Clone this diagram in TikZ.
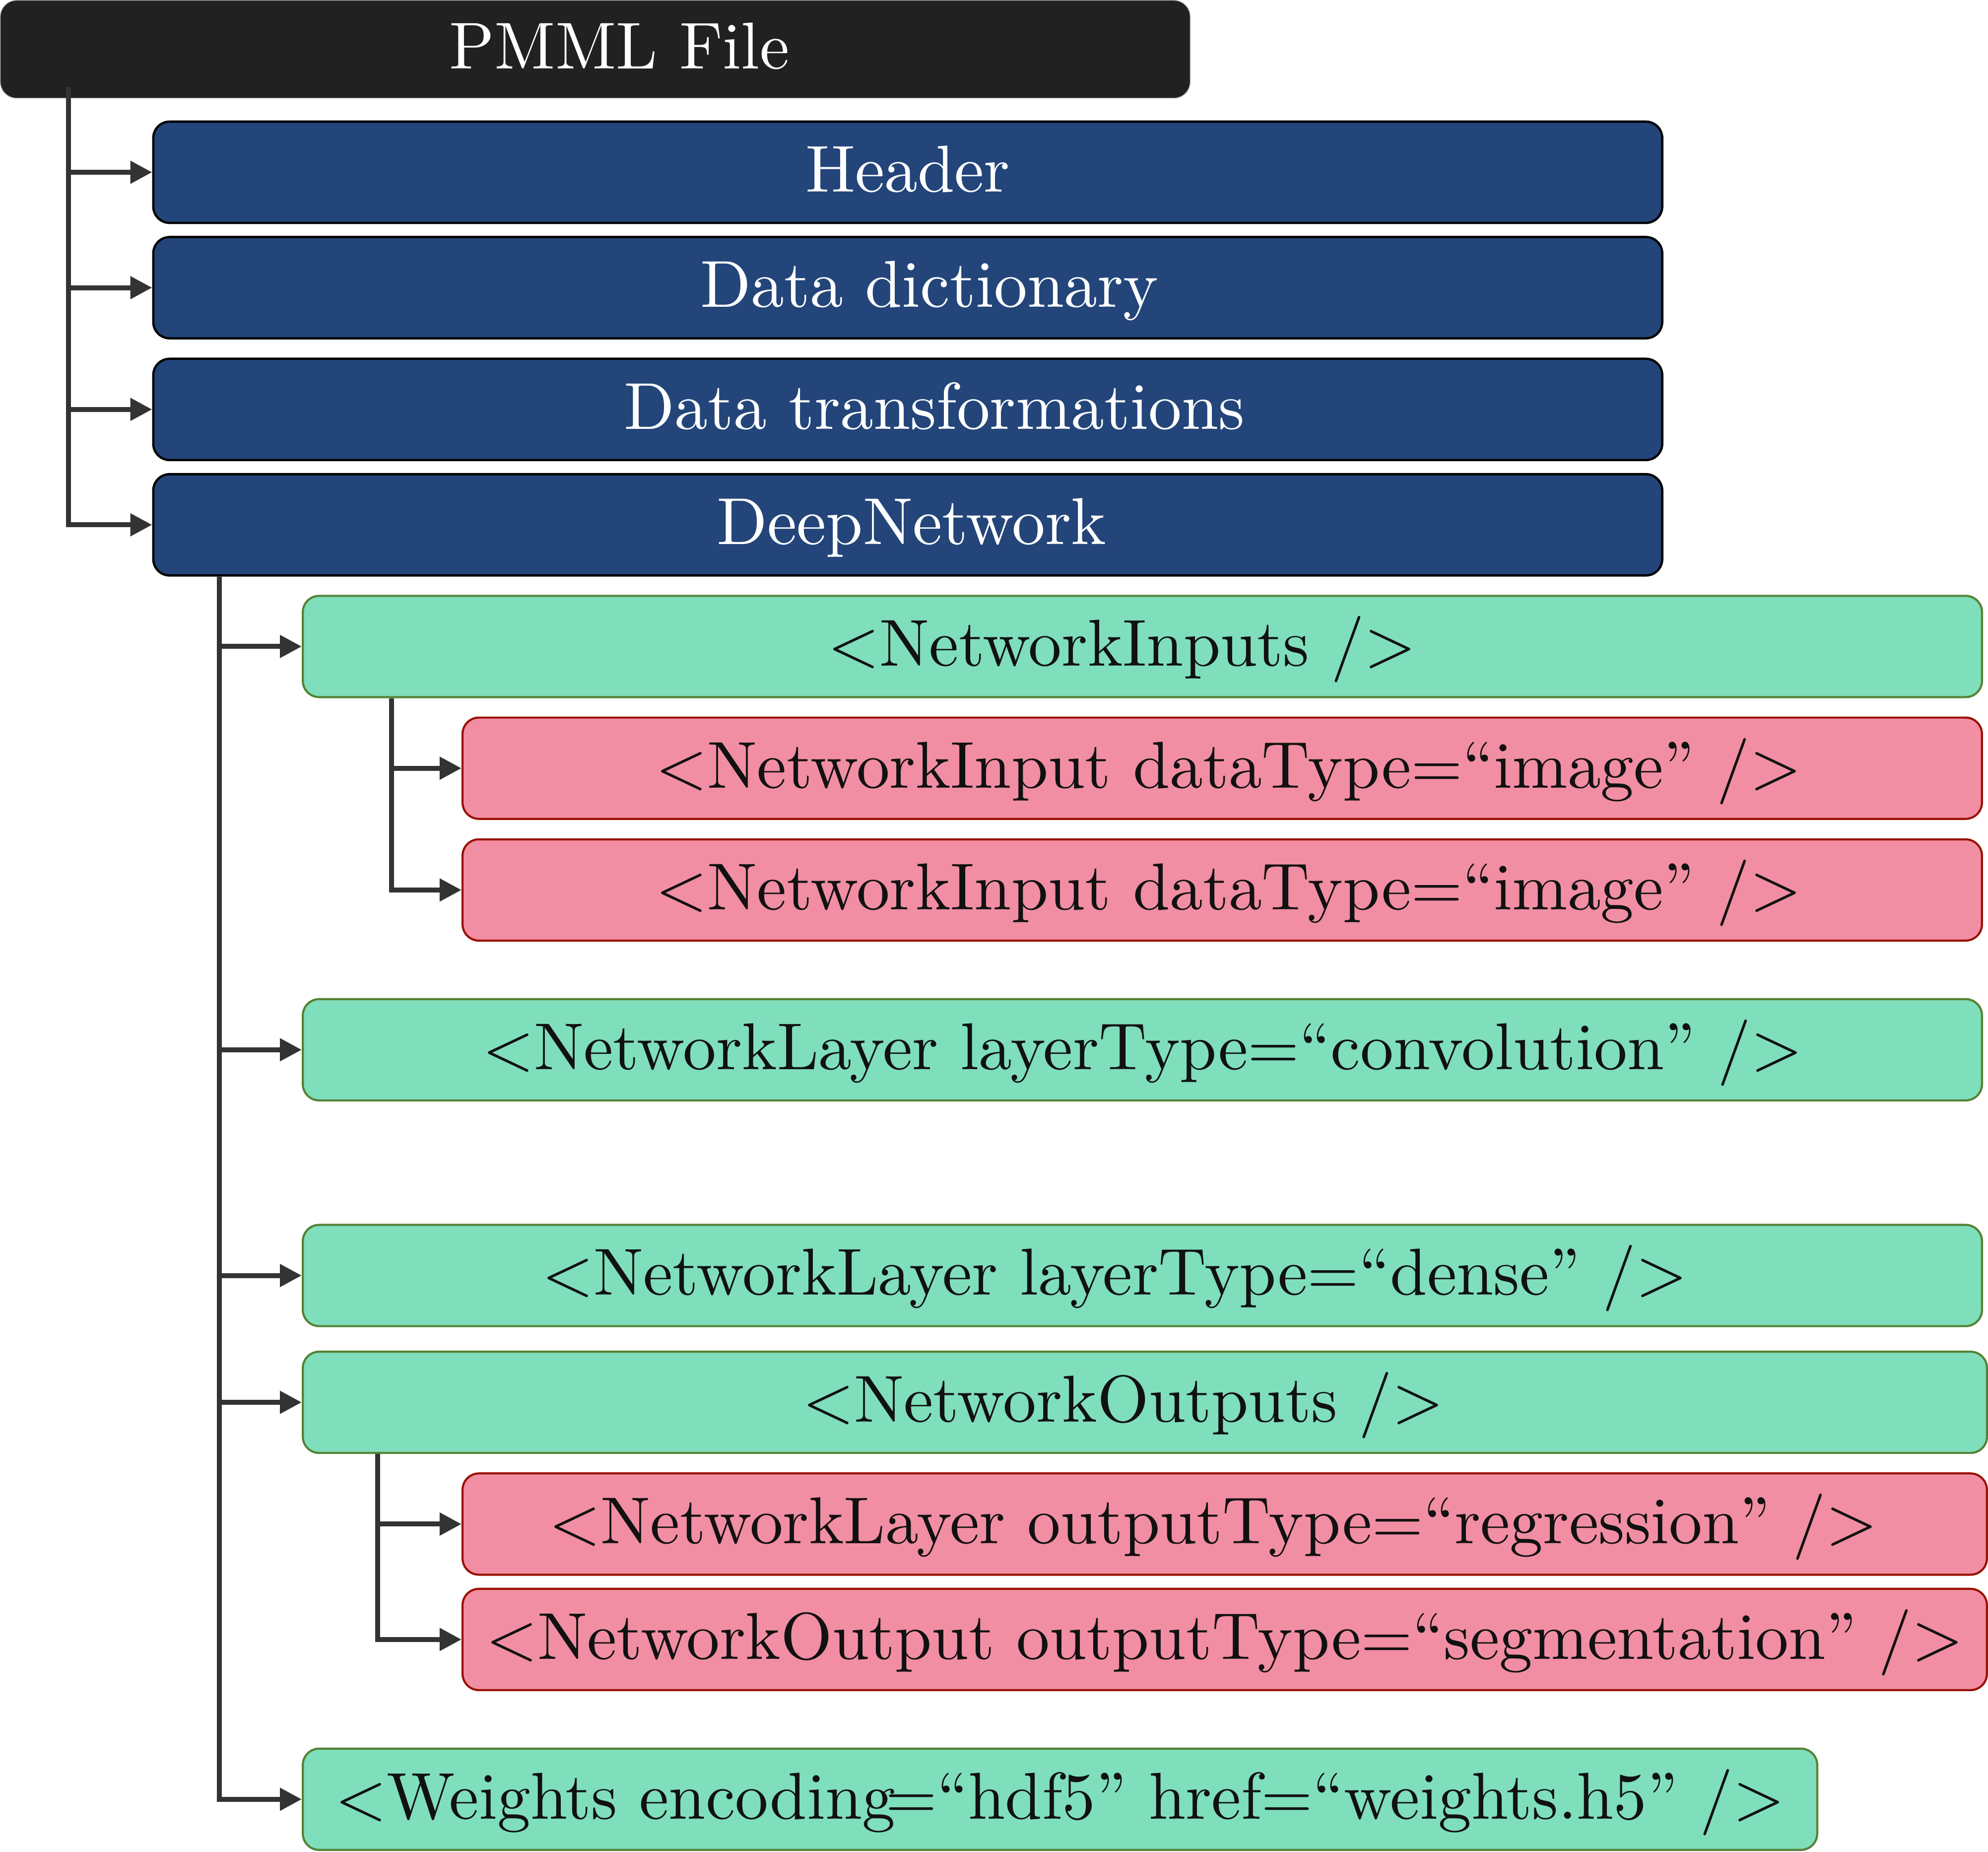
\documentclass[tikz,border=0pt]{standalone}
\usepackage{fontspec}
\setmainfont{lmroman10-regular}[Extension=.otf]
\usetikzlibrary{arrows.meta,calc}
\definecolor{pmmlblack}{RGB}{33,33,33}
\definecolor{hdrblue}{RGB}{35,69,122}
\definecolor{nodegreen}{RGB}{127,222,187}
\definecolor{bordergreen}{RGB}{84,130,53}
\definecolor{nodepink}{RGB}{241,142,163}
\definecolor{borderred}{RGB}{153,17,0}
\definecolor{connc}{RGB}{51,51,51}
\definecolor{textblack}{RGB}{17,17,17}
\tikzset{
  box/.style={rounded corners=0.33cm, minimum height=2.04cm, anchor=north west,
    inner sep=0pt, text height=22.4pt, text depth=0pt,
    font=\fontsize{38}{45}\selectfont},
  blackbox/.style={box, fill=pmmlblack, draw=gray!70, line width=0.4pt, text=white},
  bluebox/.style={box, fill=hdrblue, draw=black, line width=1.3pt, text=white},
  greenbox/.style={box, fill=nodegreen, draw=bordergreen, line width=1.2pt, text=textblack},
  pinkbox/.style={box, fill=nodepink, draw=borderred, line width=1.2pt, text=textblack},
  tshift/.style={execute at begin node={\hspace*{#1}}},
  conn/.style={draw=connc, line width=0.1cm},
  arr/.style={conn, -{Triangle[length=0.44cm,width=0.44cm]}},
}
\begin{document}
\begin{tikzpicture}[x=0.02555cm,y=-0.02555cm]
\useasboundingbox (0,0) rectangle (1568,1460);
\node[blackbox, minimum width=23.97cm, minimum height=1.97cm, tshift=0.97cm] (pmml) at (0,0) {PMML File};
\node[bluebox, minimum width=30.40cm] (header) at (120,95) {Header};
\node[bluebox, minimum width=30.40cm, tshift=0.87cm] (dict) at (120,186) {Data dictionary};
\node[bluebox, minimum width=30.40cm, tshift=1.07cm] (trans) at (120,282) {Data transformations};
\node[bluebox, minimum width=30.40cm, tshift=0.15cm] (deep) at (120,373) {DeepNetwork};
\node[greenbox, minimum width=33.83cm, tshift=-0.82cm] (inputs) at (238,469) {<NetworkInputs />};
\node[pinkbox, minimum width=30.61cm, tshift=0.26cm] (in1) at (364,565) {<NetworkInput dataType=“image” />};
\node[pinkbox, minimum width=30.61cm, tshift=0.26cm] (in2) at (364,661) {<NetworkInput dataType=“image” />};
\node[greenbox, minimum width=33.83cm] (conv) at (238,787) {<NetworkLayer layerType=“convolution” />};
\node[greenbox, minimum width=33.83cm, tshift=-1.12cm] (dense) at (238,965) {<NetworkLayer layerType=“dense” />};
\node[greenbox, minimum width=33.93cm, tshift=-0.87cm] (outputs) at (238,1065) {<NetworkOutputs />};
\node[pinkbox, minimum width=30.71cm, tshift=-0.46cm] (out1) at (364,1161) {<NetworkLayer outputType=“regression” />};
\node[pinkbox, minimum width=30.71cm] (out2) at (364,1252) {<NetworkOutput outputType=“segmentation” />};
\node[greenbox, minimum width=30.51cm] (weights) at (238,1378) {<Weights encoding\kern-0.15em=“hdf5” href=“weights.h5” />};
% level 1
\coordinate (t1) at ($(pmml.south west)+(54,-9)$);
\draw[arr] (t1) |- (deep.west);
\draw[arr] (t1 |- header.west) -- (header.west);
\draw[arr] (t1 |- dict.west) -- (dict.west);
\draw[arr] (t1 |- trans.west) -- (trans.west);
% level 2
\coordinate (t2) at ($(deep.south west)+(53,0)$);
\draw[arr] (t2) |- (weights.west);
\draw[arr] (t2 |- inputs.west) -- (inputs.west);
\draw[arr] (t2 |- conv.west) -- (conv.west);
\draw[arr] (t2 |- dense.west) -- (dense.west);
\draw[arr] (t2 |- outputs.west) -- (outputs.west);
% level 3
\coordinate (t3) at ($(inputs.south west)+(71,0)$);
\draw[arr] (t3) |- (in2.west);
\draw[arr] (t3 |- in1.west) -- (in1.west);
\coordinate (t4) at ($(outputs.south west)+(60,0)$);
\draw[arr] (t4) |- (out2.west);
\draw[arr] (t4 |- out1.west) -- (out1.west);
\end{tikzpicture}
\end{document}
